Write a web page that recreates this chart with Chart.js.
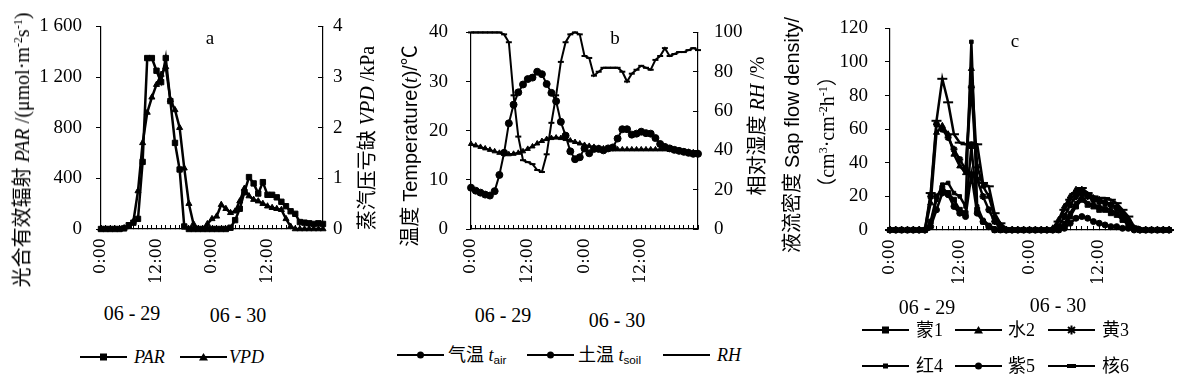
<!DOCTYPE html>
<html>
<head>
<meta charset="utf-8">
<script src="https://cdn.jsdelivr.net/npm/chart.js@4.4.0/dist/chart.umd.min.js"></script>
<style>
body { margin: 0; width: 1179px; height: 385px; overflow: hidden; position: relative; background: #fff;
       font-family: 'Liberation Serif', 'Noto Sans CJK SC', serif; color: #000; }
canvas { position: absolute; top: 0; }
.t { position: absolute; white-space: nowrap; line-height: 1; transform: translate(-50%, -50%); }
.v { transform: translate(-50%, -50%) rotate(-90deg); }
.ss { font-family: 'Liberation Sans', 'Noto Sans CJK SC', sans-serif; }
sup { font-size: 0.6em; vertical-align: 0.55em; line-height: 0; }
sub { font-size: 0.65em; vertical-align: -0.25em; line-height: 0; font-family: 'Liberation Sans', sans-serif; }
.lg { position: absolute; transform: translateY(-50%); }
.lt { position: absolute; white-space: nowrap; line-height: 1; transform: translateY(-50%); font-size: 18px; }
</style>
</head>
<body>
<canvas id="ca" width="393" height="299" style="left:0px"></canvas>
<canvas id="cb" width="360" height="299" style="left:400px"></canvas>
<canvas id="cc" width="359" height="300" style="left:820px"></canvas>

<!-- panel a text -->
<div class="t v" style="left:22px;top:150px;font-size:20px">光合有效辐射 <i>PAR</i> /(μmol·m<sup>-2</sup>s<sup>-1</sup>)</div>
<div class="t v" style="left:367px;top:138px;font-size:20px">蒸汽压亏缺 <i>VPD</i> /kPa</div>
<div class="t" style="left:210px;top:37px;font-size:19px">a</div>
<div class="t" style="left:132px;top:313px;font-size:20px">06 - 29</div>
<div class="t" style="left:238px;top:315px;font-size:20px">06 - 30</div>

<!-- panel b text -->
<div class="t v" style="left:410px;top:146px;font-size:20px">温度 <span class="ss">Temperature(<i style="font-family:'Liberation Serif'">t</i>)/℃</span></div>
<div class="t v" style="left:757px;top:126px;font-size:20px">相对湿度 <i>RH</i> /%</div>
<div class="t" style="left:615px;top:37px;font-size:19px">b</div>
<div class="t" style="left:503px;top:315px;font-size:20px">06 - 29</div>
<div class="t" style="left:617px;top:320px;font-size:20px">06 - 30</div>

<!-- panel c text -->
<div class="t v" style="left:792px;top:135px;font-size:20px">液流密度 <span class="ss">Sap flow density/</span></div>
<div class="t v" style="left:827px;top:132px;font-size:20px">（cm<sup>3</sup>·cm<sup>-2</sup>h<sup>-1</sup>）</div>
<div class="t" style="left:1015px;top:40px;font-size:19px">c</div>
<div class="t" style="left:927px;top:307px;font-size:20px">06 - 29</div>
<div class="t" style="left:1058px;top:305px;font-size:20px">06 - 30</div>

<div id="legends"></div>

<script>
// hourly time axis, 06-29 0:00 to 07-01 0:00
const hours = ['0:00', '1:00', '2:00', '3:00', '4:00', '5:00', '6:00', '7:00', '8:00', '9:00', '10:00', '11:00',
  '12:00', '13:00', '14:00', '15:00', '16:00', '17:00', '18:00', '19:00', '20:00', '21:00', '22:00', '23:00',
  '0:00', '1:00', '2:00', '3:00', '4:00', '5:00', '6:00', '7:00', '8:00', '9:00', '10:00', '11:00',
  '12:00', '13:00', '14:00', '15:00', '16:00', '17:00', '18:00', '19:00', '20:00', '21:00', '22:00', '23:00', '0:00'];

// panel a
const par = [0, 0, 0, 0, 0, 5, 30, 50, 80, 530, 1350, 1350, 1250, 1160, 1350, 1010, 680, 470, 20, 0, 0, 0, 0, 0,
  0, 0, 0, 0, 10, 70, 160, 290, 410, 360, 280, 370, 270, 270, 250, 215, 180, 140, 120, 55, 50, 45, 40, 45, 40];
const vpd = [0, 0, 0, 0, 0, 0.02, 0.05, 0.15, 0.75, 1.7, 2.3, 2.6, 2.85, 3.05, 3.2, 2.55, 2.35, 2.0, 1.2, 0.5, 0.1, 0, 0, 0.1,
  0.2, 0.25, 0.48, 0.4, 0.32, 0.35, 0.55, 0.8, 0.65, 0.58, 0.55, 0.5, 0.45, 0.42, 0.4, 0.38, 0.2, 0.05, 0, 0, 0, 0, 0, 0, 0];

// panel b
const tAir = [8.4, 7.8, 7.4, 7.0, 6.8, 7.7, 11.0, 15.5, 21.5, 25.3, 27.8, 29.4, 30.5, 30.8, 32.0, 31.5, 29.5, 27.7, 26.0, 21.8, 19.0, 15.8, 14.2, 14.6,
  16.4, 15.4, 16.3, 16.3, 16.0, 16.4, 16.6, 18.4, 20.3, 20.3, 19.2, 19.4, 19.8, 19.5, 19.4, 18.5, 17.3, 16.7, 16.4, 16.1, 15.9, 15.7, 15.5, 15.3, 15.3];
const tSoil = [17.3, 17.0, 16.7, 16.4, 16.1, 15.8, 15.5, 15.3, 15.2, 15.3, 15.5, 15.8, 16.3, 16.8, 17.4, 17.9, 18.3, 18.5, 18.6, 18.5, 18.3, 18.0, 17.7, 17.4,
  17.1, 16.9, 16.7, 16.5, 16.4, 16.3, 16.2, 16.2, 16.2, 16.2, 16.2, 16.2, 16.2, 16.2, 16.2, 16.2, 16.2, 16.2, 16.1, 16.0, 15.9, 15.8, 15.7, 15.6, 15.5];
const rh = [100, 100, 100, 100, 100, 100, 100, 99, 95, 68, 47, 35, 34, 33, 30, 29, 38, 54, 68, 85, 95, 99, 100, 99,
  88, 87, 78, 80, 82, 82, 82, 82, 80, 75, 79, 81, 83, 82, 81, 86, 88, 92, 88, 89, 90, 90, 91, 92, 91];

// panel c
const meng1 = [0, 0, 0, 0, 0, 0, 0, 5, 20, 25, 22, 18, 12, 10, 50, 12, 5, 2, 0, 0, 0, 0, 0, 0,
  0, 0, 0, 0, 0, 0, 2, 8, 14, 18, 15, 14, 12, 12, 10, 9, 6, 3, 1, 0, 0, 0, 0, 0, 0];
const shui2 = [0, 0, 0, 0, 0, 0, 0, 16, 58, 62, 57, 45, 38, 34, 96, 38, 26, 20, 8, 3, 0, 0, 0, 0,
  0, 0, 0, 0, 1, 6, 14, 20, 24, 24, 21, 19, 18, 17, 15, 14, 10, 6, 1, 0, 0, 0, 0, 0, 0];
const huang3 = [0, 0, 0, 0, 0, 0, 0, 20, 63, 60, 55, 48, 42, 36, 85, 30, 20, 12, 5, 1, 0, 0, 0, 0,
  0, 0, 0, 0, 0, 2, 8, 15, 20, 22, 20, 18, 17, 16, 15, 13, 9, 5, 1, 0, 0, 0, 0, 0, 0];
const hong4 = [0, 0, 0, 0, 0, 0, 0, 4, 18, 27, 28, 22, 20, 14, 112, 14, 6, 3, 1, 0, 0, 0, 0, 0,
  0, 0, 0, 0, 0, 1, 4, 10, 16, 20, 16, 15, 14, 13, 12, 10, 8, 3, 0, 0, 0, 0, 0, 0, 0];
const zi5 = [0, 0, 0, 0, 0, 0, 0, 2, 12, 22, 21, 14, 10, 8, 33, 10, 5, 2, 0, 0, 0, 0, 0, 0,
  0, 0, 0, 0, 0, 0, 1, 4, 7, 8, 7, 5, 4, 3, 2, 2, 1, 1, 0, 0, 0, 0, 0, 0, 0];
const he6 = [0, 0, 0, 0, 0, 0, 0, 22, 65, 90, 76, 57, 52, 51, 52, 51, 28, 26, 10, 4, 1, 0, 0, 0,
  0, 0, 0, 0, 0, 5, 12, 18, 22, 25, 22, 20, 19, 19, 18, 16, 12, 8, 2, 0, 0, 0, 0, 0, 0];

Chart.defaults.font.family = "'Liberation Serif', 'Noto Sans CJK SC', serif";
Chart.defaults.color = '#000';

function xAxis() {
  return {
    offset: false,
    border: { color: '#000', width: 1.2 },
    grid: { drawOnChartArea: false, tickLength: -4, color: '#000', lineWidth: 1 },
    ticks: {
      autoSkip: false, minRotation: 90, maxRotation: 90, padding: 13,
      font: { family: "'DejaVu Serif', serif", size: 16 },
      callback: (v, i) => (i % 12 === 0 && i < hours.length - 1) ? hours[i] : ''
    },
    afterFit: s => { s.height = 70; s.paddingLeft = 0; s.paddingRight = 0; }
  };
}

function yAxis(pos, min, max, step, width, tick, pad) {
  return {
    position: pos, min: min, max: max,
    border: { color: '#000', width: 1.2 },
    grid: { drawOnChartArea: false, tickLength: tick, color: '#000' },
    ticks: {
      stepSize: step, padding: pad, font: { size: 19 },
      callback: v => v >= 1000 ? String(v).replace(/^(\d)/, '$1 ') : v
    },
    afterFit: s => { s.width = width; }
  };
}

function series(label, data, style, radius, axis, width) {
  return {
    label: label, data: data, yAxisID: axis,
    borderColor: '#000', backgroundColor: '#000', borderWidth: width,
    pointStyle: style, pointRadius: radius, pointBorderWidth: style === 'line' || style === 'star' ? 2 : 1,
    clip: false, tension: 0
  };
}

function opts(pad, scales) {
  return {
    responsive: false, animation: false,
    layout: { padding: pad },
    plugins: { legend: { display: false }, tooltip: { enabled: false } },
    scales: scales
  };
}

new Chart(document.getElementById('ca'), {
  type: 'line',
  data: { labels: hours, datasets: [
    series('PAR', par, 'rect', 3.8, 'y', 2.5),
    series('VPD', vpd, 'triangle', 3.5, 'y1', 2.5)
  ] },
  options: opts({ top: 26, left: 0, right: 0, bottom: 0 }, {
    x: xAxis(),
    y: yAxis('left', 0, 1600, 400, 101, 5, 14),
    y1: yAxis('right', 0, 4, 1, 70, -5, 15)
  })
});

new Chart(document.getElementById('cb'), {
  type: 'line',
  data: { labels: hours, datasets: [
    series('气温 tair', tAir, 'circle', 3.5, 'y', 2),
    series('土温 tsoil', tSoil, 'triangle', 3, 'y', 2),
    series('RH', rh, 'line', 3, 'y1', 2)
  ] },
  options: opts({ top: 26, left: 0, right: 0, bottom: 0 }, {
    x: xAxis(),
    y: yAxis('left', 0, 40, 10, 71, 5, 18),
    y1: yAxis('right', 0, 100, 20, 62, -5, 21)
  })
});

new Chart(document.getElementById('cc'), {
  type: 'line',
  data: { labels: hours, datasets: [
    series('蒙1', meng1, 'rect', 3.5, 'y', 2.5),
    series('水2', shui2, 'triangle', 3.5, 'y', 2.5),
    series('黄3', huang3, 'star', 3.5, 'y', 2.5),
    series('红4', hong4, 'rect', 2.5, 'y', 2.5),
    series('紫5', zi5, 'circle', 3, 'y', 2.5),
    series('核6', he6, 'line', 5, 'y', 2.5)
  ] },
  options: opts({ top: 25, left: 0, right: 10, bottom: 0 }, {
    x: xAxis(),
    y: yAxis('left', 0, 120, 20, 70, 5, 17)
  })
});

// legends: icon left x, text left x, centre y, marker, label html
const marks = {
  rect: '<rect x="20" y="1.5" width="7" height="7"/>',
  small: '<rect x="21" y="2.5" width="5" height="5"/>',
  triangle: '<polygon points="23.5,1 28,8.5 19,8.5"/>',
  circle: '<circle cx="23.5" cy="5" r="3.5"/>',
  star: '<path d="M20 2 L27 8 M27 2 L20 8 M23.5 0.5 L23.5 9.5" stroke="#000" stroke-width="2"/>',
  dash: '<rect x="19" y="3" width="9" height="4"/>',
  none: ''
};
const legendItems = [
  [80, 134, 357, 'rect', '<i>PAR</i>'],
  [180, 229, 357, 'triangle', '<i>VPD</i>'],
  [397, 448, 355, 'circle', '气温 <i>t</i><sub>air</sub>'],
  [527, 578, 355, 'circle', '土温 <i>t</i><sub>soil</sub>'],
  [663, 717, 355, 'none', '<i>RH</i>'],
  [862, 916, 330, 'rect', '蒙1'],
  [955, 1008, 330, 'triangle', '水2'],
  [1048, 1102, 330, 'star', '黄3'],
  [862, 916, 366, 'small', '红4'],
  [955, 1008, 366, 'circle', '紫5'],
  [1048, 1102, 366, 'dash', '核6']
];
let html = '';
legendItems.forEach(([ix, tx, y, m, label]) => {
  html += `<svg class="lg" style="left:${ix}px;top:${y}px" width="47" height="10">` +
    `<line x1="0" y1="5" x2="47" y2="5" stroke="#000" stroke-width="2.2"/>${marks[m]}</svg>` +
    `<div class="lt" style="left:${tx}px;top:${y}px">${label}</div>`;
});
document.getElementById('legends').innerHTML = html;
</script>
</body>
</html>
